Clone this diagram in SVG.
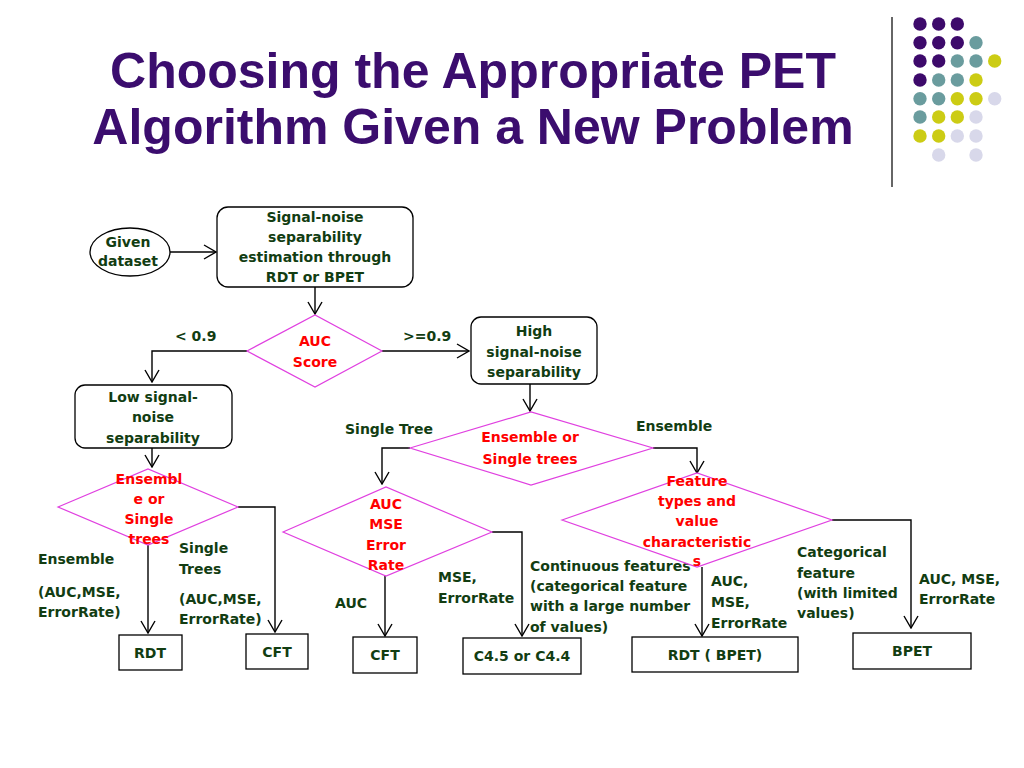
<svg xmlns="http://www.w3.org/2000/svg" width="1024" height="768" viewBox="0 0 1024 768">
<style>
.title{font-family:"Liberation Sans",Arial,sans-serif;font-weight:bold;font-size:50px;fill:#3B0D6E;text-anchor:middle}
.t{font-family:"DejaVu Sans","Liberation Sans",sans-serif;font-weight:bold;font-size:14px;fill:#123D12}
.c{text-anchor:middle}
.r{fill:#FF0000}
.box{fill:#fff;stroke:#000;stroke-width:1.3}
.dia{fill:#fff;stroke:#E040E0;stroke-width:1.2}
.ln{fill:none;stroke:#000;stroke-width:1.4}
.pu{fill:#3D0A6B}.te{fill:#6A9C9E}.ye{fill:#CCCC14}.la{fill:#D8D8EA}
</style>
<defs>
<marker id="ah" viewBox="0 0 14 16" markerWidth="14" markerHeight="16" refX="13" refY="8" orient="auto" markerUnits="userSpaceOnUse">
<path d="M1,1 L13,8 L1,15" fill="none" stroke="#000" stroke-width="1.4"/>
</marker>
</defs>
<rect width="1024" height="768" fill="#fff"/>
<g id="title">
<text class="title" x="473" y="88">Choosing the Appropriate PET</text>
<text class="title" x="473" y="144">Algorithm Given a New Problem</text>
</g>
<g id="decor">
<line x1="892" y1="17" x2="892" y2="187" stroke="#333" stroke-width="1.5"/>
<circle class="pu" cx="920" cy="24" r="6.7"/><circle class="pu" cx="938.7" cy="24" r="6.7"/><circle class="pu" cx="957.3" cy="24" r="6.7"/>
<circle class="pu" cx="920" cy="42.7" r="6.7"/><circle class="pu" cx="938.7" cy="42.7" r="6.7"/><circle class="pu" cx="957.3" cy="42.7" r="6.7"/><circle class="te" cx="976" cy="42.7" r="6.7"/>
<circle class="pu" cx="920" cy="61" r="6.7"/><circle class="pu" cx="938.7" cy="61" r="6.7"/><circle class="te" cx="957.3" cy="61" r="6.7"/><circle class="te" cx="976" cy="61" r="6.7"/><circle class="ye" cx="994.7" cy="61" r="6.7"/>
<circle class="pu" cx="920" cy="80" r="6.7"/><circle class="te" cx="938.7" cy="80" r="6.7"/><circle class="te" cx="957.3" cy="80" r="6.7"/><circle class="ye" cx="976" cy="80" r="6.7"/>
<circle class="te" cx="920" cy="98.7" r="6.7"/><circle class="te" cx="938.7" cy="98.7" r="6.7"/><circle class="ye" cx="957.3" cy="98.7" r="6.7"/><circle class="ye" cx="976" cy="98.7" r="6.7"/><circle class="la" cx="994.7" cy="98.7" r="6.7"/>
<circle class="te" cx="920" cy="117" r="6.7"/><circle class="ye" cx="938.7" cy="117" r="6.7"/><circle class="ye" cx="957.3" cy="117" r="6.7"/><circle class="la" cx="976" cy="117" r="6.7"/>
<circle class="ye" cx="920" cy="136" r="6.7"/><circle class="ye" cx="938.7" cy="136" r="6.7"/><circle class="la" cx="957.3" cy="136" r="6.7"/><circle class="la" cx="976" cy="136" r="6.7"/>
<circle class="la" cx="938.7" cy="155" r="6.7"/><circle class="la" cx="976" cy="155" r="6.7"/>
</g>
<g id="connectors">
<line class="ln" x1="170" y1="252" x2="216" y2="252" marker-end="url(#ah)"/>
<line class="ln" x1="315" y1="287" x2="315" y2="314" marker-end="url(#ah)"/>
<polyline class="ln" points="247,351 152,351 152,382" marker-end="url(#ah)"/>
<line class="ln" x1="382" y1="351" x2="469" y2="351" marker-end="url(#ah)"/>
<line class="ln" x1="530" y1="384" x2="530" y2="411" marker-end="url(#ah)"/>
<line class="ln" x1="152" y1="448" x2="152" y2="467" marker-end="url(#ah)"/>
<line class="ln" x1="148" y1="545" x2="148" y2="633" marker-end="url(#ah)"/>
<polyline class="ln" points="238,507 275,507 275,632" marker-end="url(#ah)"/>
<polyline class="ln" points="410,448 382,448 382,484" marker-end="url(#ah)"/>
<polyline class="ln" points="653,448 697,448 697,473" marker-end="url(#ah)"/>
<line class="ln" x1="385" y1="575" x2="385" y2="636" marker-end="url(#ah)"/>
<polyline class="ln" points="492,532 522,532 522,636" marker-end="url(#ah)"/>
<line class="ln" x1="702" y1="567" x2="702" y2="636" marker-end="url(#ah)"/>
<polyline class="ln" points="832,520 911,520 911,628" marker-end="url(#ah)"/>
</g>
<g id="labels">
<text class="t" x="175" y="341">&lt; 0.9</text>
<text class="t" x="403" y="341">&gt;=0.9</text>
<text class="t" x="345" y="434">Single Tree</text>
<text class="t" x="636" y="431">Ensemble</text>
<text class="t" x="38" y="564">Ensemble</text>
<text class="t" x="38" y="597">(AUC,MSE,</text>
<text class="t" x="38" y="617">ErrorRate)</text>
<text class="t" x="179" y="553">Single</text>
<text class="t" x="179" y="574">Trees</text>
<text class="t" x="179" y="604">(AUC,MSE,</text>
<text class="t" x="179" y="624">ErrorRate)</text>
<text class="t" x="335" y="608">AUC</text>
<text class="t" x="438" y="582">MSE,</text>
<text class="t" x="438" y="603">ErrorRate</text>
<text class="t" x="530" y="571">Continuous features</text>
<text class="t" x="530" y="591">(categorical feature</text>
<text class="t" x="530" y="611">with a large number</text>
<text class="t" x="530" y="632">of values)</text>
<text class="t" x="711" y="586">AUC,</text>
<text class="t" x="711" y="607">MSE,</text>
<text class="t" x="711" y="628">ErrorRate</text>
<text class="t" x="797" y="557">Categorical</text>
<text class="t" x="797" y="578">feature</text>
<text class="t" x="797" y="598">(with limited</text>
<text class="t" x="797" y="618">values)</text>
<text class="t" x="919" y="584">AUC, MSE,</text>
<text class="t" x="919" y="604">ErrorRate</text>
</g>
<g id="given">
<ellipse class="box" cx="130" cy="252" rx="40" ry="24"/>
<text class="t c" x="128" y="247">Given</text>
<text class="t c" x="128" y="266">dataset</text>
</g>
<g id="signal">
<rect class="box" x="217" y="207" width="196" height="80" rx="11"/>
<text class="t c" x="315" y="222">Signal-noise</text>
<text class="t c" x="315" y="242">separability</text>
<text class="t c" x="315" y="262">estimation through</text>
<text class="t c" x="315" y="282">RDT or BPET</text>
</g>
<g id="auc">
<polygon class="dia" points="247,351 315,315 382,351 315,387"/>
<text class="t c r" x="315" y="346">AUC</text>
<text class="t c r" x="315" y="367">Score</text>
</g>
<g id="high">
<rect class="box" x="471" y="317" width="126" height="67" rx="10"/>
<text class="t c" x="534" y="336">High</text>
<text class="t c" x="534" y="357">signal-noise</text>
<text class="t c" x="534" y="377">separability</text>
</g>
<g id="low">
<rect class="box" x="75" y="385" width="157" height="63" rx="10"/>
<text class="t c" x="153" y="402">Low signal-</text>
<text class="t c" x="153" y="422">noise</text>
<text class="t c" x="153" y="443">separability</text>
</g>
<g id="ens-left">
<polygon class="dia" points="58,507 148,469 238,507 148,545"/>
<text class="t c r" x="149" y="484">Ensembl</text>
<text class="t c r" x="149" y="504">e or</text>
<text class="t c r" x="149" y="524">Single</text>
<text class="t c r" x="149" y="544">trees</text>
</g>
<g id="ens-right">
<polygon class="dia" points="410,448 531,412 653,448 531,485"/>
<text class="t c r" x="530" y="442">Ensemble or</text>
<text class="t c r" x="530" y="464">Single trees</text>
</g>
<g id="aucmse">
<polygon class="dia" points="283,532 386,487 492,532 386,576"/>
<text class="t c r" x="386" y="509">AUC</text>
<text class="t c r" x="386" y="529">MSE</text>
<text class="t c r" x="386" y="550">Error</text>
<text class="t c r" x="386" y="570">Rate</text>
</g>
<g id="feature">
<polygon class="dia" points="562,520 697,473 832,520 697,567"/>
<text class="t c r" x="697" y="486">Feature</text>
<text class="t c r" x="697" y="506">types and</text>
<text class="t c r" x="697" y="526">value</text>
<text class="t c r" x="697" y="547">characteristic</text>
<text class="t c r" x="697" y="566">s</text>
</g>
<g id="rdt1">
<rect class="box" x="119" y="635" width="63" height="35"/>
<text class="t c" x="150" y="658">RDT</text>
</g>
<g id="cft1">
<rect class="box" x="246" y="634" width="62" height="35"/>
<text class="t c" x="277" y="657">CFT</text>
</g>
<g id="cft2">
<rect class="box" x="353" y="637" width="64" height="36"/>
<text class="t c" x="385" y="660">CFT</text>
</g>
<g id="c45">
<rect class="box" x="463" y="638" width="118" height="36"/>
<text class="t c" x="522" y="661">C4.5 or C4.4</text>
</g>
<g id="rdtbpet">
<rect class="box" x="632" y="637" width="166" height="35"/>
<text class="t c" x="715" y="660">RDT ( BPET)</text>
</g>
<g id="bpet">
<rect class="box" x="853" y="633" width="118" height="36"/>
<text class="t c" x="912" y="656">BPET</text>
</g>
</svg>
